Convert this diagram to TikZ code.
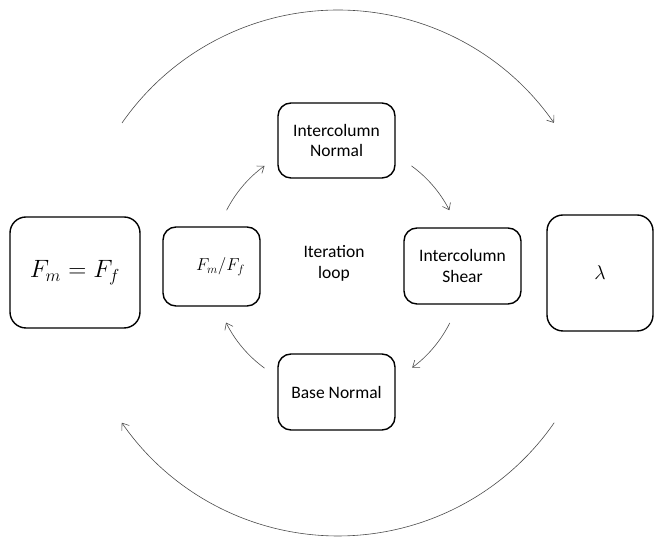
\documentclass[tikz,border=0pt]{standalone}
\usepackage{amsmath}
\usepackage{amsfonts,amssymb}
\usepackage[no-math]{fontspec}
\setmainfont{Carlito}
\usepackage{tikz}
\usetikzlibrary{arrows.meta}

\begin{document}
\begin{tikzpicture}[x=1pt,y=1pt]
\tikzstyle{box}=[draw, line width=1.4pt, rounded corners=13pt, inner sep=0pt, align=center, font=\fontsize{17.5}{20.5}\selectfont]
\tikzstyle{flow}=[draw=black!70, line width=0.6pt, -{Straight Barb[length=6pt,width=9pt]}]
\useasboundingbox (0,0) rectangle (654,540);
% outer quantities
\node[box, minimum width=130pt, minimum height=111pt, rounded corners=16pt] (eq) at (75,267.5) {\scalebox{1.45}{$F_m = F_f$}};
\node[box, minimum width=106pt, minimum height=116pt, rounded corners=16pt] (lam) at (600,267) {\scalebox{1.15}{$\lambda$}};
% iteration loop
\node[box, minimum width=97pt, minimum height=79pt] (ratio) at (211.5,273.5) {\hspace*{18pt}\raisebox{3pt}{\scalebox{1.0}{$F_m/F_f$}}};
\node[box, minimum width=117pt, minimum height=75pt] (icn) at (336.5,399.5) {Intercolumn\\Normal};
\node[box, minimum width=117pt, minimum height=76pt] (ics) at (462.5,274) {Intercolumn\\Shear};
\node[box, minimum width=117pt, minimum height=76pt] (bn) at (336.5,148) {Base Normal};
\node[align=center, font=\fontsize{17.5}{21}\selectfont] (loop) at (334,277) {Iteration\\loop};
\coordinate (bigc) at (338,267);
\coordinate (loopc) at (338,273);
% arrows of the loop
\draw[flow] ([shift={(153:125)}]loopc) arc[start angle=153, end angle=126, radius=125];
\draw[flow] ([shift={(54:125)}]loopc) arc[start angle=54, end angle=27, radius=125];
\draw[flow] ([shift={(-26.6:125)}]loopc) arc[start angle=-26.6, end angle=-53.6, radius=125];
\draw[flow] ([shift={(-126:125)}]loopc) arc[start angle=-126, end angle=-153.6, radius=125];
% outer arrows
\draw[flow] ([shift={(145.2:263)}]bigc) arc[start angle=145.2, end angle=34.8, radius=263];
\draw[flow] ([shift={(-34.7:263)}]bigc) arc[start angle=-34.7, end angle=-145.3, radius=263];
\end{tikzpicture}
\end{document}
